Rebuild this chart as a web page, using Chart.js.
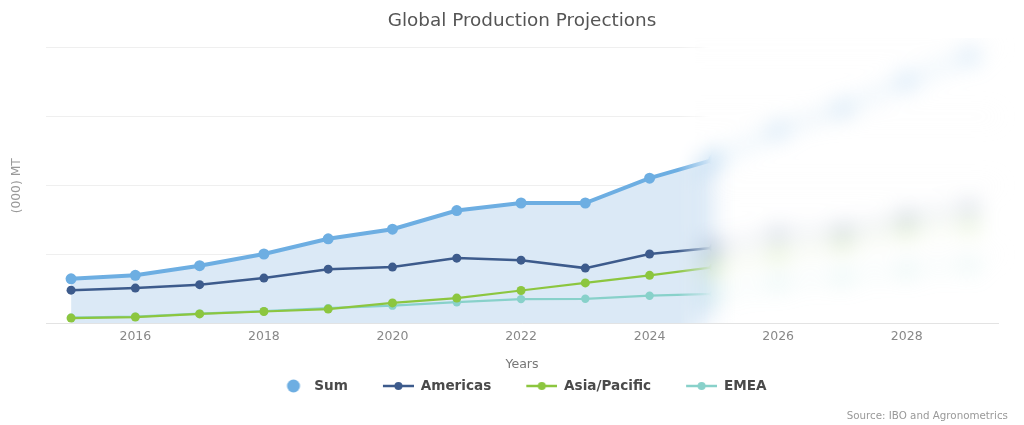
<!DOCTYPE html>
<html><head><meta charset="utf-8">
<script src="https://cdn.jsdelivr.net/npm/chart.js@4.4.1/dist/chart.umd.min.js"></script>
<style>
html,body{margin:0;padding:0;background:#fff;overflow:hidden}
#wrap{position:relative;width:1024px;height:425px}
#source{position:absolute;right:16px;top:409px;font-family:'DejaVu Sans';font-size:10.3px;color:#999;line-height:12px;white-space:nowrap}
</style></head><body>
<div id="wrap"><canvas id="c"></canvas><div id="source">Source: IBO and Agronometrics</div></div>
<script>
const chartTitle = 'Global Production Projections';
const xTitle = 'Years';
const yTitle = '(000) MT';
const years = [2015, 2016, 2017, 2018, 2019, 2020, 2021, 2022, 2023, 2024, 2025, 2026, 2027, 2028, 2029];
const seriesNames = ['Sum', 'Americas', 'Asia/Pacific', 'EMEA'];
const sumValues = [65, 70, 84, 101, 123, 137, 164, 175, 175, 211, 238, 280, 312, 352, 388];
const americasValues = [48.5, 51.5, 56.5, 66, 79, 82, 95, 92, 80.5, 101, 110, 130, 135, 154, 168];
const asiaValues = [8, 9.5, 14, 17.5, 21, 30, 37, 48, 59, 70, 82, 101, 116, 135, 142];
const emeaValues = [8.5, 10, 14.5, 18, 22.5, 26, 31, 35.5, 36, 40.5, 43, 59, 67, 77, 84];
const xTickStep = 2;
const yMax = 400;
const yStep = 100;
const projectionStart = 2025;

const rgb = [[109,174,226], [61,91,140], [140,198,63], [136,209,202]];
const colors = rgb.map(c => 'rgb(' + c.join(',') + ')');
const fadedLine = rgb.map(c => 'rgba(' + c.join(',') + ',0.4)');
const fadedPoint = rgb.map(c => 'rgba(' + c.join(',') + ',0.7)');
const fillColor = '#dbe9f6';

function pts(vals) { return years.map((y, i) => ({x: y, y: vals[i]})); }

function makeIcon(color, withLine, r, cx) {
  const cv = document.createElement('canvas');
  cv.width = 60; cv.height = 14;
  const c = cv.getContext('2d');
  if (withLine) {
    c.strokeStyle = color; c.lineWidth = 2.5;
    c.beginPath(); c.moveTo(29, 7); c.lineTo(60, 7); c.stroke();
  }
  c.fillStyle = color;
  c.beginPath(); c.arc(cx, 7, r, 0, Math.PI * 2); c.fill();
  return cv;
}
const icons = [makeIcon(colors[0], false, 6.5, 46), makeIcon(colors[1], true, 4, 44.5), makeIcon(colors[2], true, 4, 44.5), makeIcon(colors[3], true, 4, 44.5)];

const legendShift = {
  id: 'legendShift',
  afterLayout(chart) {
    if (chart.legend) { chart.legend.left -= 15; chart.legend.right -= 15; }
  }
};

const projectionBlur = {
  id: 'projectionBlur',
  afterDraw(chart) {
    const {ctx, chartArea, scales} = chart;
    const dpr = chart.currentDevicePixelRatio || 1;
    const left = Math.round(scales.x.getPixelForValue(projectionStart)) - 36;
    const top = Math.round(chartArea.top) - 10;
    const right = chart.width;
    const bottom = Math.round(chartArea.bottom) - 1;
    const w = right - left, h = bottom - top;
    const W = Math.round(w * dpr), H = Math.round(h * dpr);
    const src = document.createElement('canvas');
    src.width = W; src.height = H;
    src.getContext('2d').drawImage(chart.canvas, Math.round(left * dpr), Math.round(top * dpr), W, H, 0, 0, W, H);
    const bl = document.createElement('canvas');
    bl.width = W; bl.height = H;
    const b = bl.getContext('2d');
    b.fillStyle = '#fff'; b.fillRect(0, 0, W, H);
    b.filter = 'blur(' + (11 * dpr) + 'px)';
    b.drawImage(src, 0, 0);
    b.filter = 'none';
    b.globalCompositeOperation = 'destination-in';
    const g = b.createLinearGradient(0, 0, 34 * dpr, 0);
    g.addColorStop(0, 'rgba(0,0,0,0)');
    g.addColorStop(1, 'rgba(0,0,0,1)');
    b.fillStyle = g; b.fillRect(0, 0, W, H);
    ctx.save();
    ctx.setTransform(1, 0, 0, 1, 0, 0);
    ctx.drawImage(bl, Math.round(left * dpr), Math.round(top * dpr));
    ctx.restore();
  }
};

function seg(i, withFill) {
  const s = {borderColor: c => c.p0.parsed.x >= projectionStart ? fadedLine[i] : undefined};
  if (withFill) s.backgroundColor = c => c.p0.parsed.x >= projectionStart ? 'rgba(0,0,0,0)' : fillColor;
  return s;
}
function pointColor(i) {
  return c => (c.raw && c.raw.x > projectionStart) ? fadedPoint[i] : colors[i];
}

const datasets = [
  {label: seriesNames[0], data: pts(sumValues), borderColor: colors[0], backgroundColor: colors[0],
   borderWidth: 4, pointRadius: 5.5, pointBorderWidth: 0, pointBackgroundColor: pointColor(0),
   fill: {target: 'origin', above: fillColor}, segment: seg(0, true)},
  {label: seriesNames[1], data: pts(americasValues), borderColor: colors[1], backgroundColor: colors[1],
   borderWidth: 2.5, pointRadius: 4.5, pointBorderWidth: 0, pointBackgroundColor: pointColor(1), fill: false, segment: seg(1, false)},
  {label: seriesNames[2], data: pts(asiaValues), borderColor: colors[2], backgroundColor: colors[2],
   borderWidth: 2.2, pointRadius: 4.5, pointBorderWidth: 0, pointBackgroundColor: pointColor(2), fill: false, segment: seg(2, false)},
  {label: seriesNames[3], data: pts(emeaValues), borderColor: colors[3], backgroundColor: colors[3],
   borderWidth: 2.2, pointRadius: 4.2, pointBorderWidth: 0, pointBackgroundColor: pointColor(3), fill: false, segment: seg(3, false)}
];

new Chart(document.getElementById('c'), {
  type: 'line',
  data: {datasets},
  plugins: [legendShift, projectionBlur],
  options: {
    responsive: true,
    maintainAspectRatio: false,
    animation: false,
    events: [],
    layout: {padding: {left: 46, right: 26, top: 0, bottom: 22.2}},
    elements: {line: {tension: 0}},
    plugins: {
      filler: {drawTime: 'beforeDatasetsDraw'},
      title: {display: true, text: chartTitle, color: '#555',
        font: {family: 'DejaVu Sans', size: 18.4, weight: 'normal'}, padding: {top: 10, bottom: 15.9}},
      legend: {position: 'bottom', labels: {
        usePointStyle: true, pointStyleWidth: 60, padding: 6, color: '#4a4a4a',
        font: {family: 'DejaVu Sans', size: 13.6, weight: 'bold'},
        generateLabels(chart) {
          const items = Chart.defaults.plugins.legend.labels.generateLabels(chart);
          items.forEach((it, i) => { it.pointStyle = icons[i]; });
          return items;
        }}},
      tooltip: {enabled: false}
    },
    scales: {
      x: {type: 'linear', min: 2014.61, max: 2029.42,
        ticks: {stepSize: xTickStep, includeBounds: false, color: '#888', padding: 5.5,
          font: {family: 'DejaVu Sans', size: 12.5}, callback: v => String(v)},
        grid: {display: false, drawTicks: false},
        border: {display: true, color: '#e3e3e3', width: 1},
        title: {display: true, text: xTitle, color: '#777', font: {family: 'DejaVu Sans', size: 12.6},
          padding: {top: 7.9, bottom: 0.6}}},
      y: {min: 0, max: yMax,
        ticks: {display: false, stepSize: yStep},
        grid: {color: '#efefef', drawTicks: false},
        border: {display: false},
        title: {display: true, text: yTitle, color: '#999', font: {family: 'DejaVu Sans', size: 12.3},
          padding: {top: -36.4, bottom: 21.64}}}
    }
  }
});
</script>
</body></html>
